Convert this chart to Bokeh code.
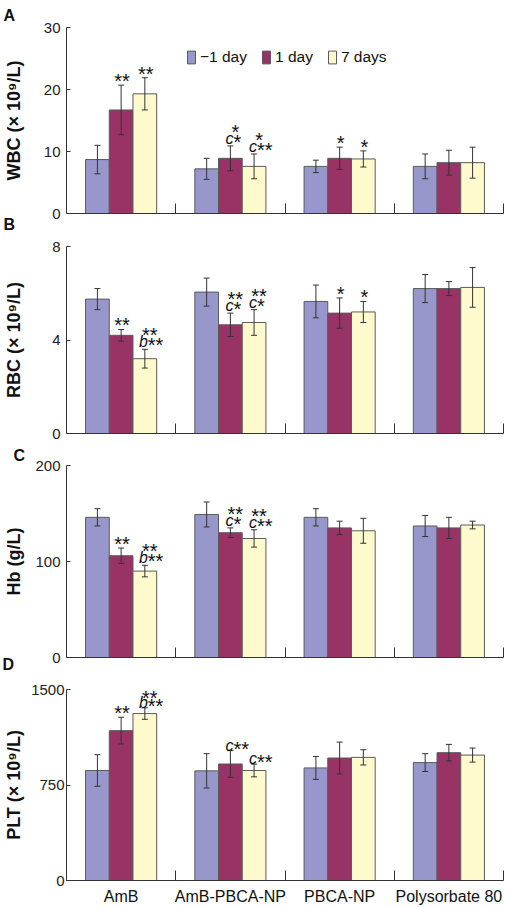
from bokeh.plotting import figure
from bokeh.models import (Range1d, FixedTicker, ColumnDataSource, Whisker, TeeHead,
                          Legend, LegendItem, LabelSet, Title)
from bokeh.layouts import column
from bokeh.embed import file_html
from bokeh.resources import INLINE
from bokeh.core.properties import value

# ---------------- data ----------------
groups = ["AmB", "AmB-PBCA-NP", "PBCA-NP", "Polysorbate 80"]
series = ["\u22121 day", "1 day", "7 days"]
colors = ["#9797CB", "#993366", "#FFFACD"]

# outer list order = series (-1 day, 1 day, 7 days); inner = the 4 groups
wbc_mean = [[8.7, 7.2, 7.6, 7.6], [16.7, 8.9, 8.9, 8.2], [19.3, 7.6, 8.8, 8.2]]
wbc_err = [[2.3, 1.7, 1.0, 2.0], [4.0, 2.0, 1.8, 2.0], [2.6, 2.0, 1.3, 2.5]]
wbc_ticks = [0, 10, 20, 30]

rbc_mean = [[5.75, 6.05, 5.65, 6.2], [4.2, 4.65, 5.15, 6.2], [3.2, 4.75, 5.2, 6.25]]
rbc_err = [[0.45, 0.6, 0.7, 0.6], [0.25, 0.5, 0.65, 0.3], [0.4, 0.55, 0.45, 0.85]]
rbc_ticks = [0, 4, 8]

hb_mean = [[146, 149, 146, 137], [106, 130, 135, 135], [90, 124, 132, 138]]
hb_err = [[9, 13, 9, 11], [8, 5, 7, 11], [6, 9, 13, 4]]
hb_ticks = [0, 100, 200]

plt_mean = [[864, 861, 884, 926], [1177, 915, 962, 1004], [1311, 864, 967, 985]]
plt_err = [[124, 135, 90, 70], [105, 105, 125, 65], [45, 50, 60, 55]]
plt_ticks = [0, 750, 1500]

# significance marks: (group index, series index, upper line, letter, lower stars)
wbc_marks = [(0, 1, "", "", "**"), (0, 2, "", "", "**"), (1, 1, "*", "c", "*"),
             (1, 2, "*", "c", "**"), (2, 1, "", "", "*"), (2, 2, "", "", "*")]
rbc_marks = [(0, 1, "", "", "**"), (0, 2, "**", "b", "**"), (1, 1, "**", "c", "*"),
             (1, 2, "**", "c", "*"), (2, 1, "", "", "*"), (2, 2, "", "", "*")]
hb_marks = [(0, 1, "", "", "**"), (0, 2, "**", "b", "**"), (1, 1, "**", "c", "*"),
            (1, 2, "**", "c", "**")]
plt_marks = [(0, 1, "", "", "**"), (0, 2, "**", "b", "**"), (1, 1, "", "c", "**"),
             (1, 2, "", "c", "**")]

FONT = "Liberation Sans"
BW = 0.217


def bar_x(g, s):
    return g + 0.5 + (s - 1) * BW


def panel_letter(p, txt, place, offset, standoff):
    t = Title(text=txt, align="left", offset=offset, standoff=standoff,
              text_font=FONT, text_font_size="16px", text_font_style="bold",
              text_color="#111111")
    p.add_layout(t, place)


def make_panel(mean, err, ticks, ylabel, marks, height, btop, bbot,
               lab_standoff, tick_standoff, offs, show_x=False, legend=False):
    p = figure(width=505, height=height, x_range=Range1d(0, 4),
               y_range=Range1d(0, ticks[-1]), output_backend="svg",
               toolbar_location=None, min_border_left=60, min_border_right=2,
               min_border_top=btop, min_border_bottom=bbot)
    p.outline_line_color = None
    p.xgrid.visible = False
    p.ygrid.visible = False
    p.background_fill_color = "white"
    p.border_fill_color = "white"

    renderers = []
    for s in range(3):
        xs = [bar_x(g, s) for g in range(4)]
        src = ColumnDataSource(dict(
            x=xs, top=mean[s],
            upper=[m + e for m, e in zip(mean[s], err[s])],
            lower=[m - e for m, e in zip(mean[s], err[s])]))
        r = p.vbar(x="x", top="top", bottom=0, width=BW, source=src,
                   fill_color=colors[s], line_color="#5a5a5a", line_width=1)
        renderers.append(r)
        w = Whisker(source=src, base="x", upper="upper", lower="lower",
                    dimension="height", line_color="#333333", line_width=1,
                    upper_head=TeeHead(size=6, line_color="#333333", line_width=1),
                    lower_head=TeeHead(size=6, line_color="#333333", line_width=1))
        w.level = "overlay"
        p.add_layout(w)

    # significance marks
    alone = dict(x=[], y=[], t=[])
    lett = dict(x=[], y=[], t=[])
    lstars = dict(x=[], y=[], t=[])
    upper = dict(x=[], y=[], t=[])
    for (g, s, up, lt, st) in marks:
        x = bar_x(g, s)
        y = mean[s][g] + err[s][g]
        if lt:
            lett["x"].append(x); lett["y"].append(y); lett["t"].append(lt)
            lstars["x"].append(x); lstars["y"].append(y); lstars["t"].append(st)
        else:
            alone["x"].append(x); alone["y"].append(y); alone["t"].append(st)
        if up:
            upper["x"].append(x); upper["y"].append(y); upper["t"].append(up)

    def add_set(d, align, xo, yo, size, style="normal"):
        if not d["x"]:
            return
        ls = LabelSet(x="x", y="y", text="t", source=ColumnDataSource(d),
                      text_align=align, text_baseline="alphabetic",
                      x_offset=xo, y_offset=yo, text_font=value(FONT),
                      text_font_size=size, text_font_style=style, text_color="#111111")
        ls.level = "overlay"
        p.add_layout(ls)

    add_set(alone, "center", 1, offs[0], "20px")
    add_set(lett, "right", 3, offs[1], "16px", "italic")
    add_set(lstars, "left", 3, offs[2], "20px")
    add_set(upper, "center", 5, offs[3], "20px")

    # y axis
    ya = p.yaxis[0]
    ya.ticker = FixedTicker(ticks=ticks, minor_ticks=[])
    ya.axis_label = ylabel
    ya.axis_label_text_font = FONT
    ya.axis_label_text_font_size = "18px"
    ya.axis_label_text_font_style = "bold"
    ya.axis_label_text_color = "#111111"
    ya.axis_label_standoff = lab_standoff
    ya.major_label_text_font = FONT
    ya.major_label_text_font_size = "15px"
    ya.major_label_text_color = "#222222"
    ya.major_label_standoff = tick_standoff
    ya.major_tick_in = 4
    ya.major_tick_out = 0
    ya.minor_tick_in = 0
    ya.minor_tick_out = 0
    ya.axis_line_color = "#333333"
    ya.major_tick_line_color = "#333333"

    # x axis: category boundaries as inward ticks
    xa = p.xaxis[0]
    xa.axis_line_color = "#333333"
    xa.minor_tick_line_color = "#333333"
    xa.minor_tick_in = 10
    xa.minor_tick_out = 0
    xa.major_tick_in = 0
    xa.major_tick_out = 0
    if show_x:
        xa.ticker = FixedTicker(ticks=[g + 0.5 for g in range(4)], minor_ticks=[1, 2, 3, 4])
        xa.major_label_overrides = {g + 0.5: groups[g] for g in range(4)}
        xa.major_label_text_font = FONT
        xa.major_label_text_font_size = "16px"
        xa.major_label_text_color = "#111111"
        xa.major_label_standoff = 7
    else:
        xa.ticker = FixedTicker(ticks=[], minor_ticks=[1, 2, 3, 4])
        xa.major_label_standoff = 0
        xa.major_label_text_font_size = "0px"

    if legend:
        items = [LegendItem(label=series[i], renderers=[renderers[i]]) for i in range(3)]
        lg = Legend(items=items, orientation="horizontal", location=(120, 147),
                    background_fill_alpha=0, border_line_color=None, padding=0, margin=0,
                    spacing=14, label_standoff=4, glyph_width=10, glyph_height=16,
                    label_height=16, label_text_font=FONT, label_text_font_size="15.5px",
                    label_text_color="#111111")
        p.add_layout(lg)
    return p


std_offs = (-3, 2, -3, 7)
plt_offs = (-3, 0, -5, 3)

pA = make_panel(wbc_mean, wbc_err, wbc_ticks, "WBC (\u00d7 10\u2079/L)", wbc_marks,
                232, 27, 19, 17, 6, std_offs, legend=True)
pB = make_panel(rbc_mean, rbc_err, rbc_ticks, "RBC (\u00d7 10\u2079/L)", rbc_marks,
                211, 14, 10, 25, 6, std_offs)
pC = make_panel(hb_mean, hb_err, hb_ticks, "Hb (g/L)", hb_marks,
                233, 22, 19, 8, 6, std_offs)
pD = make_panel(plt_mean, plt_err, plt_ticks, "PLT (\u00d7 10\u2079/L)", plt_marks,
                231, 13, 25, 4, 2, plt_offs, show_x=True)

pA.title.text = ""
pB.title.text = ""
pC.title.text = ""
pD.title.text = ""
panel_letter(pA, "A", "above", -63, 8)
panel_letter(pA, "B", "below", -63, 0)
panel_letter(pC, "C", "above", -53, 3)
panel_letter(pC, "D", "below", -64, -8)

layout = column(pA, pB, pC, pD, spacing=0)
open("out.html", "w").write(file_html(layout, INLINE))
